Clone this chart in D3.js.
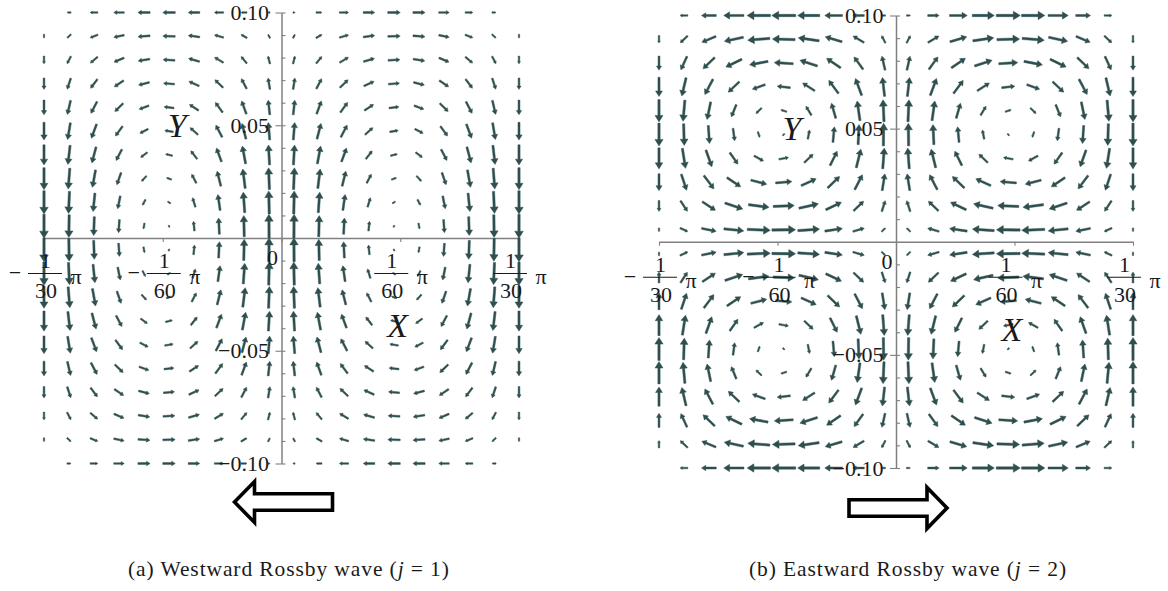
<!DOCTYPE html>
<html>
<head>
<meta charset="utf-8">
<script src="https://cdn.jsdelivr.net/npm/d3@7"></script>
<style>
  html, body { margin: 0; padding: 0; background: #fff; }
  svg { display: block; }
</style>
</head>
<body>
<svg id="chart" width="1168" height="591"></svg>
<script>
// ---- Field definition -------------------------------------------------
// Both panels: one zonal wavelength across a channel of width 0.2
const xDomain = [-Math.PI / 30, Math.PI / 30];
const yDomain = [-0.1, 0.1];
const gridCount = [20, 20];          // arrows along x, along y
const zonalWavenumber = 30;
const channelWidth = 0.2;

// One entry per panel
const panelTags = ["a", "b"];
const meridionalModes = [1, 2];      // j
const streamAmplitudes = [1, -1];
const directionWords = ["Westward", "Eastward"];
const propagation = [-1, 1];         // sense of the hollow arrow

// ---- Axis ticks -------------------------------------------------------
const xTickValues = [-Math.PI / 30, -Math.PI / 60, 0, Math.PI / 60, Math.PI / 30];
const xTickLabels = [
  { sign: "−", num: "1", den: "30" },
  { sign: "−", num: "1", den: "60" },
  { zero: "0" },
  { sign: "", num: "1", den: "60" },
  { sign: "", num: "1", den: "30" }
];
const yTickValues = [0.10, 0.05, -0.05, -0.10];
const yTickLabels = ["0.10", "0.05", "−0.05", "−0.10"];
const yMinorTicks = [-0.09, -0.08, -0.07, -0.06, -0.04, -0.03, -0.02, -0.01,
                     0.01, 0.02, 0.03, 0.04, 0.06, 0.07, 0.08, 0.09];

// Cell names written inside the upper-left and lower-right vortices
const cellNames = ["Y", "X"];
const cellNameX = [-0.046, 0.0512];
const cellNameY = [0.0448, -0.0438];

// ---- Layout and style --------------------------------------------------
const layout = [
  { x0: 44, x1: 519, yTop: 12.5, yBot: 463.5, bigArrowY: 502, captionX: 128 },
  { x0: 659, x1: 1133, yTop: 15.5, yBot: 468, bigArrowY: 508, captionX: 749 }
];
const arrowMaxLen = 24;
const vectorColor = "#2f4f4f";
const axisColor = "#808080";
const textColor = "#1a1a1a";
const serif = "'Liberation Serif', 'Times New Roman', serif";
const tickFont = 22;

const svg = d3.select("#chart");

// Velocity from the stream function psi = A sin(kx) sin(j*pi*(y - y0)/W)
function velocity(x, y, j, amp) {
  const k = zonalWavenumber;
  const m = j * Math.PI / channelWidth;
  const s = y - yDomain[0];
  return {
    u: -amp * Math.sin(k * x) * m * Math.cos(m * s),
    v: amp * k * Math.cos(k * x) * Math.sin(m * s)
  };
}

// Slim arrow pointing along +x, centred on the origin
function arrowPath(len) {
  const h = Math.max(0.8, 0.29 * len);
  const w = Math.max(0.8, 0.18 * len);
  const s = 0.6 + 0.024 * len;
  const a = -len / 2, b = len / 2;
  return `M${a},${-s}L${b - h},${-s}L${b - h},${-w}L${b},0L${b - h},${w}L${b - h},${s}L${a},${s}Z`;
}

panelTags.forEach((tag, i) => {
  const L = layout[i];
  const xs = d3.scaleLinear().domain(xDomain).range([L.x0, L.x1]);
  const ys = d3.scaleLinear().domain(yDomain).range([L.yBot, L.yTop]);
  const ax = xs(0), ay = ys(0);

  // Axes lines and tick marks
  const axes = svg.append("g").attr("color", axisColor);
  axes.append("g")
    .attr("transform", `translate(0,${ay})`)
    .call(d3.axisBottom(xs).tickValues(xTickValues).tickSize(4).tickSizeOuter(0).tickFormat(""));
  axes.append("g")
    .attr("transform", `translate(${ax},0)`)
    .call(d3.axisRight(ys).tickValues(yMinorTicks.concat(yTickValues)).tickSize(4).tickSizeOuter(0).tickFormat(""));
  axes.append("g")
    .attr("transform", `translate(${ax},0)`)
    .call(d3.axisLeft(ys).tickValues(yTickValues).tickSize(6).tickFormat(""))
    .call(g => g.select(".domain").remove());
  axes.selectAll("path, line").attr("stroke-width", 1.5);
  axes.selectAll(".tick line").attr("stroke-width", 1.1);

  // Vector field on a regular grid
  const gx = d3.range(gridCount[0]).map(c => d3.interpolateNumber(xDomain[0], xDomain[1])(c / (gridCount[0] - 1)));
  const gy = d3.range(gridCount[1]).map(r => d3.interpolateNumber(yDomain[0], yDomain[1])(r / (gridCount[1] - 1)));
  const pts = [];
  gx.forEach(x => gy.forEach(y => {
    const vel = velocity(x, y, meridionalModes[i], streamAmplitudes[i]);
    pts.push({ x, y, u: vel.u, v: vel.v, mag: Math.hypot(vel.u, vel.v) });
  }));
  const maxMag = d3.max(pts, d => d.mag);
  const lenScale = d3.scaleLinear().domain([0, maxMag]).range([0, arrowMaxLen]);

  svg.append("g")
    .selectAll("path")
    .data(pts.filter(d => lenScale(d.mag) > 0.05))
    .join("path")
    .attr("d", d => arrowPath(lenScale(d.mag)))
    .attr("transform", d => {
      const ang = Math.atan2(-d.v, d.u) * 180 / Math.PI;
      return `translate(${xs(d.x)},${ys(d.y)}) rotate(${ang})`;
    })
    .attr("fill", vectorColor)
    .attr("stroke", vectorColor)
    .attr("stroke-width", 0.45)
    .attr("stroke-linejoin", "round");

  // Tick labels
  const lab = svg.append("g")
    .attr("font-family", serif)
    .attr("font-size", tickFont)
    .attr("fill", textColor);

  const yLab = lab.append("g")
    .attr("transform", `translate(${ax},0)`)
    .call(d3.axisLeft(ys).tickValues(yTickValues).tickSize(0).tickPadding(12.5)
      .tickFormat((d, t) => yTickLabels[t]));
  yLab.select(".domain").remove();
  yLab.selectAll("line").remove();
  yLab.attr("font-family", serif).attr("font-size", tickFont);
  yLab.selectAll("text").attr("fill", textColor);

  xTickValues.forEach((v, t) => {
    const d = xTickLabels[t];
    const tx = xs(v);
    if (d.zero) {
      lab.append("text").attr("x", tx - 9).attr("y", ay + 27)
        .attr("text-anchor", "middle").text(d.zero);
      return;
    }
    const o = d.sign ? 10 : 0;
    const bc = tx - 9 + o;
    if (d.sign) {
      lab.append("text").attr("x", tx - 29).attr("y", ay + 42)
        .attr("text-anchor", "middle").text(d.sign);
    }
    lab.append("text").attr("x", bc + 0.5).attr("y", ay + 30)
      .attr("text-anchor", "middle").text(d.num);
    lab.append("line")
      .attr("x1", bc - 17).attr("x2", bc + 17)
      .attr("y1", ay + 35.5).attr("y2", ay + 35.5)
      .attr("stroke", textColor).attr("stroke-width", 1.2);
    lab.append("text").attr("x", bc + 1).attr("y", ay + 60)
      .attr("text-anchor", "middle").text(d.den);
    lab.append("text").attr("x", tx + 22 + o).attr("y", ay + 46)
      .attr("text-anchor", "middle").text("π");
  });

  // Cell names
  cellNames.forEach((nm, c) => {
    svg.append("text")
      .attr("x", xs(cellNameX[c])).attr("y", ys(cellNameY[c]))
      .attr("text-anchor", "middle")
      .attr("font-family", serif).attr("font-style", "italic")
      .attr("font-size", 34).attr("fill", textColor)
      .text(nm);
  });

  // Hollow arrow showing the propagation direction
  const dir = propagation[i];
  const cx = ax + 2, half = 49, head = 20, sh = 8.3, hh = 20.5, yb = L.bigArrowY;
  const tip = cx + dir * half, base = cx + dir * (half - head), tail = cx - dir * half;
  const outline = [
    [tail, yb - sh], [base, yb - sh], [base, yb - hh], [tip, yb],
    [base, yb + hh], [base, yb + sh], [tail, yb + sh]
  ];
  svg.append("path")
    .attr("d", d3.line()(outline) + "Z")
    .attr("fill", "#fff")
    .attr("stroke", "#000")
    .attr("stroke-width", 3.6)
    .attr("stroke-linejoin", "miter");

  // Caption
  const cap = svg.append("text")
    .attr("x", L.captionX).attr("y", 576)
    .attr("font-family", serif).attr("font-size", 21.5)
    .attr("letter-spacing", 0.9)
    .attr("fill", textColor);
  cap.append("tspan").text(`(${tag}) ${directionWords[i]} Rossby wave (`);
  cap.append("tspan").attr("font-style", "italic").text("j");
  cap.append("tspan").text(` = ${meridionalModes[i]})`);
});
</script>
</body>
</html>
